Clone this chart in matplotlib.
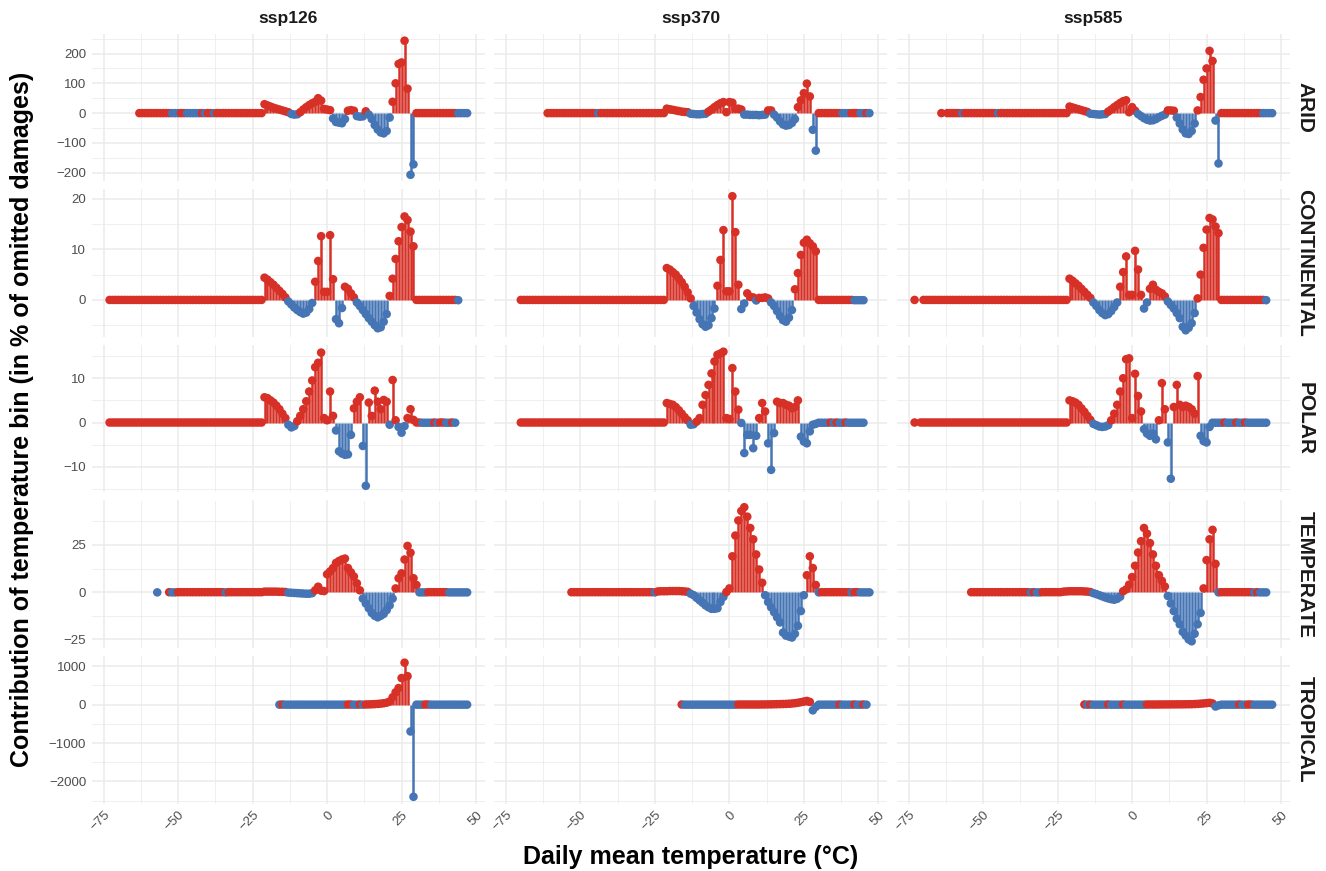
import numpy as np
import matplotlib
matplotlib.use("Agg")
import matplotlib.pyplot as plt
from matplotlib.ticker import MultipleLocator

plt.rcParams['font.family'] = ['Liberation Sans', 'DejaVu Sans']

RED = "#D73027"
BLUE = "#4575B4"

scenarios = ["ssp126", "ssp370", "ssp585"]
zones = ["ARID", "CONTINENTAL", "POLAR", "TEMPERATE", "TROPICAL"]

# contribution per 1 °C bin, first value is the bin at *_start (None = no bin)
arid_126_start = -63
arid_126 = [0, 0, 0, 0, 0, 0, 0, 0, 0, 0,
            0, -0.1, -0.1, -0.1, 0, 0, -0.1, -0.1, -0.1, -0.1,
            -0.1, 0, -0.1, 0, 0, -0.1, 0, 0, 0, 0,
            0, 0, 0, 0, 0, 0, 0, 0, 0, 0, 0, 0,
            30, 26, 22, 18, 15, 12, 9, 6, 3, -3,
            -5, -4, 3, 12, 20, 27, 33, 38, 50, 42,
            14, 12, 10, -18, -30, -32, -34, -20, 8, 10,
            8, -10, -12, -11, 6, -5, -20, -40, -55, -65,
            -68, -60, -15, 38, 100, 165, 170, 243, 82, -207,
            -172, 0, 0, 0, 0, 0, 0, 0, 0, 0,
            0, 0, 0, 0, 0, -0.1, -0.1, -0.1, -0.1]

arid_370_start = -61
arid_370 = [0, 0, 0, 0, 0, 0, 0, 0, 0, 0,
            0, 0, 0, 0, 0, 0, 0, -0.1, 0, 0,
            0, 0, 0, 0, 0, 0, 0, 0, 0, 0,
            0, 0, 0, 0, 0, 0, 0, 0, 0, 0,
            15, 13, 11, 9, 7, 5, 4, 3,
            -2, -3, -4, -4, -3, -2,
            5, 12, 20, 27, 33, 37,
            3, 37, 35, 15, 15, 12,
            -5, -5, -6, -6, -6, -7, -6, -5,
            9, 9,
            -5, -15, -28, -38, -42, -40, -33, -20,
            20, 43, 67, 99, 56,
            -56, -126,
            0, 0, 0, 0, 0, 0, 0, 0, -0.1, -0.1, -0.1, 0, 0, 0, -0.1, -0.1, 0, -0.1]

arid_585_start = -64
arid_585 = [0, None,
            0, 0, 0, 0, 0, -0.1, 0, 0, 0, 0,
            0, 0, 0, 0, 0, 0, 0, -0.1, 0, 0,
            0, 0, 0, 0, 0, 0, 0, 0, 0, 0,
            0, 0, 0, 0, 0, 0, 0, 0, 0, 0, 0,
            22, 19, 16, 13, 10, 7, 4,
            -2, -3, -4, -5, -4, -3,
            5, 12, 20, 27, 34, 40, 43,
            3, 20, 8,
            -3, -10, -17, -22, -25, -24, -20, -14, -9, -5,
            9, 9, 8,
            -15, -35, -55, -68, -70, -60, -35,
            9, 54, 112, 150, 209, 175,
            -25, -169,
            0, 0, 0, 0, 0, 0, 0, 0, 0, 0, 0, 0, 0, 0, -0.1, -0.1, -0.1, -0.1]

cont_126_start = -73
cont_126 = [0, 0, 0, 0, 0, 0, 0, 0, 0, 0,
            0, 0, 0, 0, 0, 0, 0, 0, 0, 0,
            0, 0, 0, 0, 0, 0, 0, 0, 0, 0,
            0, 0, 0, 0, 0, 0, 0, 0, 0, 0,
            0, 0, 0, 0, 0, 0, 0, 0, 0, 0, 0, 0,
            4.4, 4.0, 3.5, 3.0, 2.4, 1.8, 1.2, 0.5,
            -0.3, -0.9, -1.5, -2.0, -2.4, -2.7, -2.5, -1.8, -0.6,
            3.6, 7.7, 12.6, 1.6, 1.6, 12.8, 4.1,
            -3.8, -4.6, -1.6,
            2.6, 2.2, 1.3, 0.5,
            -0.5, -1.2, -2.0, -2.8, -3.6, -4.3, -5.0, -5.6, -5.4, -4.3, -2.8,
            0.8, 4.2, 8.1, 11.6, 14.4, 16.5, 15.8, 13.5, 10.6,
            0, 0, 0, 0, 0, 0, 0, 0, 0, 0, 0, 0, 0, 0, -0.05]

cont_370_start = -70
cont_370 = [0, 0, 0, 0, 0, 0, 0, 0, 0, 0,
            0, 0, 0, 0, 0, 0, 0, 0, 0, 0,
            0, 0, 0, 0, 0, 0, 0, 0, 0, 0,
            0, 0, 0, 0, 0, 0, 0, 0, 0, 0,
            0, 0, 0, 0, 0, 0, 0, 0, 0,
            6.3, 6.0, 5.5, 5.0, 4.3, 3.5, 2.6, 1.5, 0.3,
            -1.2, -2.5, -3.8, -4.8, -5.3, -5.0, -3.6, -1.7,
            2.8, 7.9, 13.8, 1.7, 1.7, 20.5, 13.4, 3.0,
            -1.8, -0.7,
            1.3, 0.6, 0.5, -0.1, 0.4, 0.4, 0.5, 0.3,
            -0.5, -1.2, -2.2, -3.2, -4.0, -4.3, -3.5, -2.0,
            2.1, 5.3, 8.9, 11.3, 11.9, 11.2, 10.6, 9.6,
            0, 0, 0, 0, 0, 0, 0, 0, 0, 0, 0, 0, -0.05, -0.05, -0.05, -0.05]

cont_585_start = -73
cont_585 = [0, None, None,
            0, 0, 0, 0, 0, 0, 0, 0, 0, 0,
            0, 0, 0, 0, 0, 0, 0, 0, 0, 0,
            0, 0, 0, 0, 0, 0, 0, 0, 0, 0,
            0, 0, 0, 0, 0, 0, 0, 0, 0, 0,
            0, 0, 0, 0, 0, 0, 0, 0, 0,
            4.2, 3.8, 3.3, 2.8, 2.2, 1.6, 1.0, 0.4,
            -0.5, -1.2, -2.0, -2.6, -3.0, -2.8, -2.2, -1.4, -0.5,
            2.6, 5.5, 8.6, 1.0, 1.0, 9.7, 6.0, 1.0,
            -1.7, -0.5,
            2.2, 3.0, 2.0, 1.6, 1.3, 0.7,
            -0.3, -1.0, -1.7, -2.6, -3.6, -5.3, -6.0, -5.5, -4.6, -2.6,
            0.3, 5.0, 10.3, 13.9, 16.2, 15.9, 14.5, 13.2,
            0, 0, 0, 0, 0, 0, 0, 0, 0, 0, 0, 0, 0, 0, 0, -0.05]

polar_126_start = -73
polar_126 = [0, 0, 0, 0, 0, 0, 0, 0, 0, 0,
             0, 0, 0, 0, 0, 0, 0, 0, 0, 0,
             0, 0, 0, 0, 0, 0, 0, 0, 0, 0,
             0, 0, 0, 0, 0, 0, 0, 0, 0, 0,
             0, 0, 0, 0, 0, 0, 0, 0, 0, 0, 0, 0,
             5.7, 5.5, 5.0, 4.5, 3.8, 3.0, 2.0, 1.0,
             -0.5, -1.1, -0.8,
             0.3, 1.5, 3.0, 4.8, 7.0, 9.5, 12.5, 13.5, 15.8, 1.0, 0.5, 7.0, 1.5,
             -1.8, -6.5, -7.0, -7.3, -7.2, -2.8, 3.2, 4.7, 5.7, -5.3,
             -14.3, 4.5, 1.5, 7.2, 4.7, 3.0, 5.1, 4.7, -0.5, 9.6,
             0.5, -1.0, -2.3, -0.8, 1.0, 3.0, 0.6,
             0, 0, -0.05, -0.05, -0.05, -0.05, 0, -0.05, 0, 0, -0.05, -0.05, 0, -0.05]

polar_370_start = -70
polar_370 = [0, 0, 0, 0, 0, 0, 0, 0, 0, 0,
             0, 0, 0, 0, 0, 0, 0, 0, 0, 0,
             0, 0, 0, 0, 0, 0, 0, 0, 0, 0,
             0, 0, 0, 0, 0, 0, 0, 0, 0, 0,
             0, 0, 0, 0, 0, 0, 0, 0, 0,
             4.4, 4.2, 4.0, 3.5, 2.8, 2.0, 1.2, 0.5,
             -0.5, -0.4,
             0.2, 1.0, 4.0, 6.2, 8.5, 11.1, 13.8, 15.3, 15.6, 16.0, 1.0, 0.8, 12.3, 7.0, 2.9,
             -0.1, -6.9, -2.8, -2.8, -5.8, -3.0,
             1.0, 4.4, 2.5,
             -4.7, -10.7, -2.4,
             4.7, 4.4, 4.4, 4.0, 3.8, 3.2, 3.5, 5.0,
             -3.2, -4.3, -4.7, -2.0, -0.5, -0.3,
             -0.05, -0.05, -0.05, -0.05, 0, -0.05, 0, -0.05,
             -0.05, 0, -0.05, -0.05, -0.05, -0.05, -0.05, -0.05]

polar_585_start = -73
polar_585 = [0, None,
             0, 0, 0, 0, 0, 0, 0, 0, 0, 0,
             0, 0, 0, 0, 0, 0, 0, 0, 0, 0,
             0, 0, 0, 0, 0, 0, 0, 0, 0, 0,
             0, 0, 0, 0, 0, 0, 0, 0, 0, 0,
             0, 0, 0, 0, 0, 0, 0, 0, 0, 0,
             5.0, 4.8, 4.5, 4.0, 3.2, 2.4, 1.5, 0.6,
             -0.3, -0.6, -0.9, -1.0, -0.9, -0.6,
             0.5, 2.0, 4.0, 7.0, 10.0, 14.3, 14.5, 1.0, 11.0, 6.0, 2.5,
             -1.5, -2.5, -3.0, -2.5, -3.8,
             0.5, 8.9, 3.0,
             -4.5, -12.7,
             3.5, 8.5, 4.0, 3.5, 3.8, 3.5, 3.0, 2.0, 10.5,
             -3.0, -4.2, -4.5, -1.0,
             -0.05, -0.05, -0.05, -0.05, 0, -0.05, -0.05, -0.05, 0, -0.05,
             -0.05, 0, -0.05, -0.05, -0.05, -0.05, -0.05, -0.05, -0.05]

temp_126_start = -57
temp_126 = [-0.1, None, None, None, 0, -0.1, -0.1, 0,
            0, 0, 0, 0, 0, 0, 0, 0, 0, 0, 0, 0, 0, 0, 0,
            -0.1,
            0, 0, 0, 0, 0, 0, 0, 0, 0, 0, 0, 0,
            0.3, 0.3, 0.3, 0.3, 0.3, 0.2, 0.2, 0.1,
            -0.2, -0.3, -0.4, -0.5, -0.6, -0.7, -0.8, -0.8, -0.5,
            1.0, 2.9, 0.8, 0.6,
            9.5, 11.0, 12.8, 15.5, 16.5, 17.3, 17.8, 12.8, 10.5, 8.3, 4.7, 1.0,
            -3.4, -6.0, -8.5, -11.0, -12.5, -13.3, -12.5, -11.5, -9.5, -7.0, -3.4,
            2.0, 7.4, 10.0, 17.3, 24.5, 20.9, 7.4, 3.8,
            -0.1, -0.1, -0.1, 0, 0, 0, 0, 0, 0, 0, -0.1, -0.1, -0.1, -0.1, -0.1, -0.1, -0.1]

temp_370_start = -53
temp_370 = [0, 0, 0, 0, 0, 0, 0, 0, 0, 0,
            0, 0, 0, 0, 0, 0, 0, 0, 0, 0,
            0, 0, 0, 0, 0, 0, 0, 0,
            -0.1,
            0.4, 0.5, 0.5, 0.5, 0.6, 0.6, 0.6, 0.6, 0.5, 0.4, 0.2,
            -0.8, -1.6, -3.0, -4.3, -5.6, -7.0, -8.0, -8.8, -8.8, -8.5, -5.2, -2.5,
            0.1, 2, 19, 30, 38, 43, 45, 40, 34, 28, 20, 12, 5,
            -1.6, -5.2, -8.0, -10.6, -13.3, -16.0, -21.4, -23.0, -23.5, -24.0, -22.0, -17.8, -10.0, -1.6,
            9, 19, 12.8, 3.8,
            -0.1,
            0, 0, 0, 0, 0, 0, 0, 0, 0, 0, -0.1, 0, 0, -0.1, -0.1, -0.1, -0.1]

temp_585_start = -54
temp_585 = [0, 0, 0, 0, 0, 0, 0, 0, 0, 0,
            0, 0, 0, 0, 0, 0, 0, 0, 0, 0,
            -0.1, 0, -0.1, -0.1, 0, 0, 0, 0, 0, 0, 0,
            0.3, 0.4, 0.5, 0.5, 0.5, 0.5, 0.5, 0.4, 0.3, 0.1,
            -0.5, -1.0, -1.6, -2.2, -2.8, -3.3, -3.7, -4.0, -3.5, -2.4,
            0.5, 1.5, 4, 8, 14, 21, 27, 34, 31, 26, 20, 14, 9, 6, 3,
            -2, -6, -10, -14, -17, -21, -23, -25, -26, -22, -17, -11,
            2, 17, 28, 33, 15,
            -0.1, 0, 0, 0, 0, 0, 0, 0, 0, 0, 0, 0, -0.1, 0, -0.1, -0.1, -0.1]

trop_126_start = -16
trop_126 = [-2, 2,
            -2, -2, -2, -2, -2, -2, -2, -2, -2, -2, -2, -2, -2, -2, -2, -2, -2, -2, -2, -2, -2,
            2, 2, -2, -2, 2, -2,
            3, 5, 8, 12, 18, 25, 35, 50, 80,
            190, 320, 430, 690, 1090, 740,
            -700, -2400,
            -2, -2, -2, 2, 2,
            -2, -2, -2, -2, -2, -2, -2, -2, -2, -2, -2, -2, -2]

trop_370_start = -16
trop_370 = [2,
            -2, -2, -2, -2, -2, -2, -2, -2, -2, -2, -2, -2, -2, -2, -2, -2, -2, -2,
            2, 2, 2, 2, 2, 2, 2, 2, 3, 4, 5, 6, 8, 10, 12, 15, 18,
            22, 28, 36, 48, 62, 80, 95, 70,
            -150, -60,
            -2, -2, -2, -2, -2, -2, -2, 2, -2, -2, -2, -2, 2, -2, -2, 2, -2]

trop_585_start = -16
trop_585 = [2,
            -2, 2, -2, -2,
            -2, -2, -2, 2, -2, -2, -2, -2, 2, -2, -2, -2, -2, -2, -2, -2,
            2, 2, 2, 2, 3, 3, 4, 4, 5, 5, 6, 6, 7, 8, 9,
            10, 14, 18, 24, 30, 38, 45, 30,
            -50, -20,
            -2, -2, -2, -2, -2, -2, 2, -2, -2, 2, 2, -2, -2, -2, -2, -2, -2, -2]

series = {
    ("ARID", "ssp126"): (arid_126_start, arid_126),
    ("ARID", "ssp370"): (arid_370_start, arid_370),
    ("ARID", "ssp585"): (arid_585_start, arid_585),
    ("CONTINENTAL", "ssp126"): (cont_126_start, cont_126),
    ("CONTINENTAL", "ssp370"): (cont_370_start, cont_370),
    ("CONTINENTAL", "ssp585"): (cont_585_start, cont_585),
    ("POLAR", "ssp126"): (polar_126_start, polar_126),
    ("POLAR", "ssp370"): (polar_370_start, polar_370),
    ("POLAR", "ssp585"): (polar_585_start, polar_585),
    ("TEMPERATE", "ssp126"): (temp_126_start, temp_126),
    ("TEMPERATE", "ssp370"): (temp_370_start, temp_370),
    ("TEMPERATE", "ssp585"): (temp_585_start, temp_585),
    ("TROPICAL", "ssp126"): (trop_126_start, trop_126),
    ("TROPICAL", "ssp370"): (trop_370_start, trop_370),
    ("TROPICAL", "ssp585"): (trop_585_start, trop_585),
}

# y tick spacing per row (major)
row_major = [100, 10, 10, 25, 1000]

W, H = 1326, 871
fig = plt.figure(figsize=(W / 100, H / 100), dpi=100)

col_x = [91.7, 494.0, 896.7]
col_w = 393.3
row_y = [34.0, 189.5, 345.0, 500.5, 656.0]
row_h = 147.5

grid_c = "#EBEBEB"
txt_c = "#4D4D4D"

first = None
for r, zone in enumerate(zones):
    row_first = None
    for c, sc in enumerate(scenarios):
        ax = fig.add_axes([col_x[c] / W, 1 - (row_y[r] + row_h) / H, col_w / W, row_h / H],
                          sharex=first, sharey=row_first)
        if first is None:
            first = ax
        if row_first is None:
            row_first = ax

        start, vals = series[(zone, sc)]
        v = np.array([np.nan if x is None else x for x in vals], dtype=float)
        t = start + np.arange(len(v))
        ok = ~np.isnan(v)
        t, v = t[ok], v[ok]
        cols = np.where(v < 0, BLUE, RED)
        ax.vlines(t, 0, v, colors=cols, lw=1.8, zorder=2)
        ax.scatter(t, v, c=cols, s=38, lw=0, zorder=3)

        for s in ax.spines.values():
            s.set_visible(False)
        ax.set_facecolor("white")
        ax.xaxis.set_major_locator(MultipleLocator(25))
        ax.xaxis.set_minor_locator(MultipleLocator(12.5))
        ax.yaxis.set_major_locator(MultipleLocator(row_major[r]))
        ax.yaxis.set_minor_locator(MultipleLocator(row_major[r] / 2))
        ax.grid(which="major", color=grid_c, lw=1.1, zorder=0)
        ax.grid(which="minor", color=grid_c, lw=0.55, zorder=0)
        ax.set_axisbelow(True)
        ax.tick_params(which="both", length=0, labelsize=9.5, labelcolor=txt_c, pad=4)
        if c > 0:
            ax.tick_params(labelleft=False)
        if r < len(zones) - 1:
            ax.tick_params(labelbottom=False)
        else:
            for lab in ax.get_xticklabels():
                lab.set_rotation(45)
                lab.set_ha("right")
                lab.set_va("top")
                lab.set_rotation_mode("anchor")

        if r == 0:
            fig.text((col_x[c] + col_w / 2) / W, 1 - 18 / H, sc, ha="center", va="center",
                     fontsize=12.5, fontweight="bold", color="#1A1A1A")
        if c == 2:
            fig.text(1305 / W, 1 - (row_y[r] + row_h / 2) / H, zone, ha="center", va="center",
                     rotation=-90, fontsize=15, fontweight="bold", color="#1A1A1A")

first.set_xlim(-79, 53)

fig.text(691 / W, 1 - 857 / H, "Daily mean temperature (°C)", ha="center", va="center",
         fontsize=18, fontweight="bold", color="black")
fig.text(22 / W, 1 - 419 / H, "Contribution of temperature bin (in % of omitted damages)",
         ha="center", va="center", rotation=90, fontsize=18, fontweight="bold", color="black")

fig.savefig("out.png", dpi=100)
